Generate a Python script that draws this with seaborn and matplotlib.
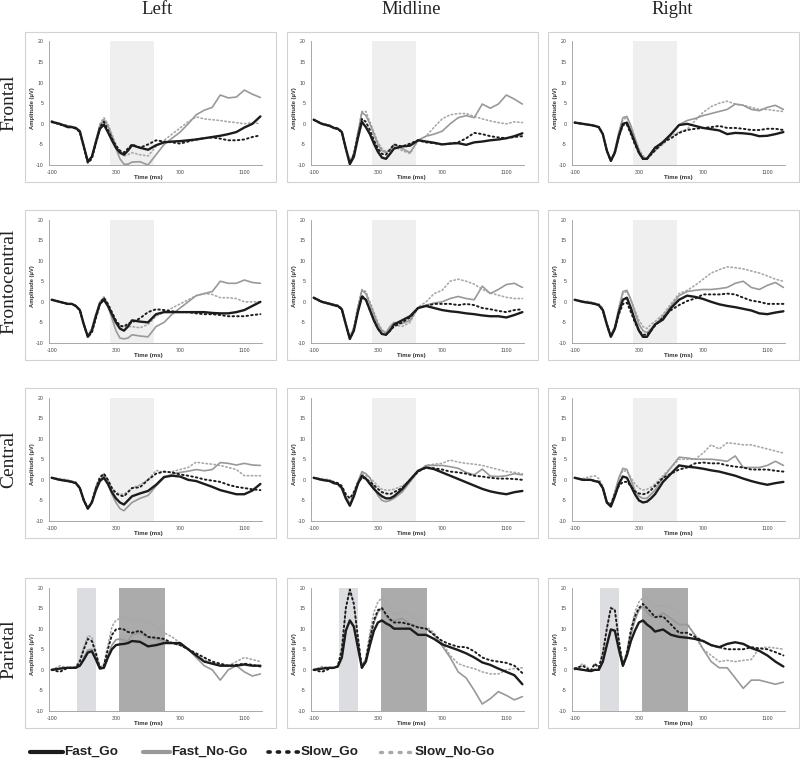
import matplotlib
matplotlib.use("Agg")
import matplotlib.pyplot as plt
import seaborn as sns
import pandas as pd
from matplotlib.patches import Rectangle
from matplotlib.lines import Line2D

# ---------------- data ----------------
times = [-100, -50, 0, 25, 50, 75, 100, 125, 150, 175, 200, 225, 250, 275, 300, 325, 350, 375, 400,
         450, 500, 550, 600, 650, 700, 750, 800, 850, 900, 950, 1000, 1050, 1100, 1150, 1200]
regions = ["Frontal", "Frontocentral", "Central", "Parietal"]
sides = ["Left", "Midline", "Right"]
conditions = ["Fast_Go", "Fast_No-Go", "Slow_Go", "Slow_No-Go"]
x_ticks = [-100, 100, 300, 500, 700, 900, 1100]
x_ticklabels = ["-100", "", "300", "", "700", "", "1100"]
y_ticks = [-10, -5, 0, 5, 10, 15, 20]
n2_window = [260, 540]
p1_window = [60, 175]
p3_window = [320, 605]

# Frontal
fl_fg = [0.5, 0.0, -0.8, -0.8, -1.0, -1.8, -5.5, -9.2, -8.0, -4.5, -1.2, -0.2, -2.0, -4.0, -5.8, -7.0, -7.5, -6.5, -5.2, -5.8, -6.3, -5.2, -4.5, -4.3, -4.2, -4.0, -3.8, -3.5, -3.2, -2.9, -2.5, -2.0, -0.9, 0.0, 1.8]
fl_fn = [0.3, 0.0, -0.5, -0.8, -1.0, -1.8, -5.5, -9.0, -8.0, -4.0, -0.5, 1.0, -0.5, -3.0, -6.0, -8.5, -9.8, -9.8, -9.3, -9.2, -10.0, -7.5, -5.0, -3.5, -2.0, 0.0, 2.2, 3.3, 4.0, 7.0, 6.3, 6.5, 8.2, 7.2, 6.4]
fl_sg = [0.6, -0.2, -0.5, -0.8, -1.2, -2.0, -5.8, -9.5, -8.5, -4.8, -0.8, 0.5, -1.5, -3.5, -5.3, -6.5, -7.0, -6.0, -5.0, -5.8, -5.0, -4.0, -4.3, -4.5, -4.8, -4.3, -3.8, -3.5, -3.3, -3.6, -4.0, -4.0, -3.8, -3.2, -2.8]
fl_sn = [0.5, 0.0, -0.5, -0.6, -1.0, -1.8, -5.5, -9.0, -8.0, -4.0, 0.0, 1.5, 0.0, -2.5, -5.0, -6.8, -7.8, -7.5, -7.0, -7.5, -7.8, -5.5, -4.0, -2.5, -1.0, 0.5, 1.7, 1.2, 1.0, 0.8, 0.5, 0.3, 0.0, 0.3, 0.0]

fm_fg = [1.0, 0.0, -0.5, -1.0, -1.2, -2.0, -6.0, -9.8, -8.0, -3.5, 0.5, -0.8, -2.5, -4.8, -6.8, -8.2, -8.5, -7.3, -6.0, -5.5, -5.3, -4.0, -4.3, -4.6, -5.0, -4.8, -4.7, -5.1, -4.5, -4.3, -4.0, -3.8, -3.5, -3.0, -2.3]
fm_fn = [1.0, 0.0, -0.5, -1.0, -1.2, -2.0, -6.0, -9.5, -7.5, -2.5, 2.8, 2.0, 0.0, -2.5, -5.0, -6.5, -7.0, -6.2, -5.0, -6.0, -7.0, -4.0, -3.0, -2.5, -1.8, 0.0, 1.5, 2.0, 1.5, 4.8, 3.8, 4.8, 7.0, 6.0, 4.8]
fm_sg = [1.0, 0.0, -0.5, -1.0, -1.2, -2.0, -6.0, -9.5, -7.5, -3.0, 1.2, 0.5, -1.5, -4.0, -6.0, -7.3, -7.5, -6.3, -5.0, -5.5, -4.8, -4.0, -4.5, -4.7, -5.0, -4.8, -4.5, -3.5, -2.2, -2.5, -3.0, -3.3, -3.5, -3.2, -3.0]
fm_sn = [1.0, 0.2, -0.3, -0.8, -1.0, -1.8, -5.5, -9.0, -7.0, -2.0, 3.0, 3.0, 0.5, -2.0, -4.5, -6.0, -6.8, -6.5, -5.5, -6.5, -7.2, -4.0, -3.0, -0.8, 1.2, 2.2, 2.5, 2.5, 1.8, 1.2, 0.7, 0.3, 0.0, 0.5, 0.3]

fr_fg = [0.3, 0.0, -0.3, -0.5, -0.8, -2.5, -6.5, -9.0, -7.0, -3.0, 0.0, 0.3, -2.0, -4.5, -7.0, -8.5, -8.5, -7.2, -5.8, -4.5, -2.5, -0.3, 0.0, -0.5, -1.0, -1.3, -1.6, -2.5, -2.2, -2.3, -2.5, -3.0, -2.9, -2.5, -2.0]
fr_fn = [0.3, 0.0, -0.3, -0.5, -0.8, -2.5, -6.5, -9.0, -6.5, -2.0, 1.5, 1.8, -0.5, -3.5, -6.5, -8.2, -8.5, -7.0, -6.0, -4.2, -2.5, -0.2, 0.8, 1.3, 2.0, 2.5, 3.0, 3.5, 4.8, 4.5, 3.5, 3.2, 4.0, 4.5, 3.5]
fr_sg = [0.3, 0.0, -0.3, -0.5, -0.8, -2.5, -6.5, -9.0, -7.0, -3.0, -0.3, -0.2, -2.5, -5.0, -7.0, -8.5, -8.5, -7.5, -6.5, -4.5, -3.5, -2.2, -1.5, -1.2, -1.0, -0.8, -0.5, -1.0, -1.0, -1.2, -1.5, -1.5, -1.2, -1.2, -1.5]
fr_sn = [0.3, 0.0, -0.3, -0.5, -0.8, -2.5, -6.5, -8.8, -6.5, -2.0, 1.0, 1.5, -0.5, -3.5, -6.0, -7.8, -8.3, -7.5, -6.5, -5.0, -3.0, -2.0, -1.3, 0.8, 2.8, 4.2, 5.0, 5.5, 4.8, 4.5, 4.0, 3.5, 3.5, 3.2, 3.0]

# Frontocentral
fcl_fg = [0.5, 0.0, -0.5, -0.5, -1.0, -2.0, -5.5, -8.5, -7.0, -3.5, -0.5, 0.5, -1.0, -3.0, -5.0, -6.5, -7.0, -6.0, -4.5, -4.8, -5.0, -3.0, -2.5, -2.5, -2.5, -2.5, -2.5, -2.5, -2.7, -2.8, -2.8, -2.5, -2.0, -1.0, 0.0]
fcl_fn = [0.5, 0.0, -0.5, -0.5, -1.0, -2.0, -5.5, -8.3, -6.5, -3.0, 0.0, 1.0, -1.0, -4.0, -7.0, -8.8, -9.0, -8.8, -8.0, -8.3, -8.5, -6.0, -5.0, -3.0, -1.5, 0.0, 1.5, 2.0, 2.5, 5.0, 4.5, 4.5, 5.3, 4.7, 4.5]
fcl_sg = [0.5, 0.0, -0.5, -0.5, -1.0, -2.0, -5.5, -8.5, -7.5, -4.0, -0.5, 1.0, -0.5, -2.5, -4.5, -5.8, -6.0, -5.3, -5.0, -4.0, -2.5, -1.8, -2.0, -2.3, -2.5, -2.5, -2.8, -3.0, -3.0, -3.2, -3.5, -3.5, -3.5, -3.2, -3.0]
fcl_sn = [0.5, 0.0, -0.5, -0.5, -1.0, -2.0, -5.5, -8.3, -6.5, -3.0, 0.0, 1.2, -0.5, -3.0, -5.0, -6.0, -6.0, -6.0, -6.0, -6.3, -5.5, -3.5, -2.5, -1.5, -0.5, 0.5, 1.5, 2.0, 1.8, 1.0, 1.0, 0.8, 0.0, 0.0, 0.0]

fcm_fg = [1.0, 0.0, -0.5, -0.8, -1.0, -1.8, -5.5, -9.0, -7.0, -2.5, 1.2, 0.5, -2.0, -4.5, -6.5, -7.8, -8.0, -7.0, -5.5, -4.5, -3.5, -1.5, -1.0, -1.5, -2.0, -2.3, -2.5, -2.8, -3.0, -3.3, -3.5, -3.5, -3.8, -3.2, -2.5]
fcm_fn = [1.0, 0.0, -0.5, -0.8, -1.0, -1.8, -5.5, -8.8, -6.5, -1.5, 2.8, 2.0, -0.5, -3.0, -5.5, -7.0, -7.5, -6.0, -5.0, -5.3, -4.5, -1.5, -0.8, -0.3, 0.0, 0.8, 1.3, 0.8, 0.5, 3.8, 2.0, 3.0, 4.2, 4.5, 3.5]
fcm_sg = [1.0, 0.0, -0.5, -0.8, -1.0, -1.8, -5.5, -9.0, -7.0, -2.5, 1.5, 0.5, -2.0, -4.5, -6.5, -7.8, -8.0, -7.0, -6.0, -5.0, -3.8, -1.5, -1.0, -0.5, -0.5, -0.5, -0.8, -0.5, -0.8, -1.5, -1.8, -2.2, -2.5, -2.0, -1.8]
fcm_sn = [1.0, 0.2, -0.3, -0.5, -0.8, -1.5, -5.0, -8.5, -6.0, -1.0, 3.0, 2.5, 0.0, -2.5, -5.0, -6.8, -7.5, -6.5, -5.5, -6.0, -5.0, -1.3, 0.0, 2.0, 2.8, 5.0, 5.5, 5.0, 4.3, 3.0, 2.2, 1.6, 1.1, 0.8, 0.8]

fcr_fg = [0.5, 0.0, -0.3, -0.5, -0.8, -2.0, -5.5, -8.5, -6.5, -2.5, 0.5, 1.0, -1.5, -4.5, -7.0, -8.5, -8.5, -7.0, -5.5, -4.3, -1.5, 0.5, 1.5, 1.2, 0.7, 0.0, -0.6, -1.0, -1.3, -1.7, -2.1, -2.8, -3.0, -2.6, -2.3]
fcr_fn = [0.5, 0.0, -0.3, -0.5, -0.8, -2.0, -5.5, -8.3, -6.0, -1.5, 2.5, 2.8, 0.5, -2.5, -5.5, -7.0, -7.5, -6.5, -5.5, -3.5, -1.0, 1.5, 2.5, 2.8, 3.0, 3.0, 3.2, 3.5, 4.5, 5.0, 3.5, 3.0, 4.0, 4.7, 3.5]
fcr_sg = [0.5, 0.0, -0.3, -0.5, -0.8, -2.0, -5.5, -8.5, -6.5, -3.0, -0.5, -0.2, -2.5, -5.0, -7.0, -8.0, -8.0, -7.0, -5.8, -3.8, -2.0, -0.8, 0.2, 0.8, 1.8, 1.8, 1.8, 2.0, 1.8, 1.0, 0.3, 0.0, -0.5, -0.5, -0.5]
fcr_sn = [0.5, 0.2, 0.0, -0.3, -0.5, -1.5, -5.0, -8.0, -6.0, -1.5, 2.0, 2.5, 0.5, -2.0, -4.5, -6.0, -6.5, -5.5, -4.8, -3.0, -0.5, 2.0, 2.8, 4.0, 5.5, 7.0, 7.8, 8.5, 8.3, 8.0, 7.5, 7.0, 6.3, 5.5, 5.0]

# Central
cl_fg = [0.5, 0.0, -0.3, -0.5, -0.8, -2.0, -5.0, -7.0, -5.5, -2.5, -0.3, 0.5, -1.0, -3.0, -4.5, -5.5, -6.0, -5.0, -4.0, -3.3, -2.7, -1.2, 0.7, 1.0, 0.8, 0.0, -0.3, -1.0, -1.7, -2.5, -3.0, -3.5, -3.5, -2.6, -1.0]
cl_fn = [0.5, 0.0, -0.3, -0.5, -0.8, -2.0, -5.0, -7.0, -5.5, -2.5, 0.0, 1.0, -1.0, -3.5, -5.5, -7.0, -7.5, -6.5, -5.5, -4.5, -3.8, -1.5, 0.5, 1.4, 1.8, 2.1, 2.5, 2.2, 2.5, 4.2, 4.0, 3.6, 4.0, 3.6, 3.5]
cl_sg = [0.5, 0.0, -0.3, -0.5, -0.8, -2.0, -5.0, -7.0, -5.5, -2.0, 0.5, 1.5, 0.0, -2.0, -3.3, -3.8, -4.0, -3.0, -2.0, -1.8, 0.0, 1.5, 2.0, 1.8, 1.3, 1.0, 0.6, 0.1, -0.2, -0.5, -1.2, -1.7, -2.0, -2.3, -2.5]
cl_sn = [0.5, 0.3, 0.0, -0.3, -0.5, -1.8, -5.0, -6.8, -5.0, -1.5, 0.8, 1.5, 0.0, -2.0, -3.0, -3.5, -3.5, -2.8, -2.0, -1.2, 0.0, 2.3, 1.8, 2.0, 2.5, 3.0, 4.3, 4.0, 3.8, 3.5, 3.0, 2.5, 1.0, 1.0, 1.0]

cm_fg = [0.5, 0.0, -0.3, -0.8, -1.0, -2.0, -4.5, -6.3, -4.0, -1.0, 1.0, 0.3, -1.0, -2.2, -3.2, -4.0, -4.5, -4.5, -4.0, -2.3, 0.0, 2.2, 3.0, 2.6, 1.8, 1.0, 0.2, -0.6, -1.4, -2.2, -2.8, -3.2, -3.5, -3.0, -2.7]
cm_fn = [0.5, 0.0, -0.3, -0.8, -1.0, -2.0, -4.5, -6.0, -3.5, -0.5, 2.0, 1.5, 0.5, -1.8, -3.8, -5.0, -5.3, -5.0, -4.5, -3.0, -0.5, 2.0, 3.5, 3.5, 3.5, 3.2, 2.8, 1.8, 1.2, 2.6, 0.9, 0.8, 1.0, 1.5, 1.2]
cm_sg = [0.5, 0.0, -0.3, -0.5, -0.8, -1.5, -3.5, -4.5, -3.0, -0.8, 0.5, 0.3, -0.5, -1.3, -2.2, -3.0, -3.3, -3.5, -3.0, -2.0, 0.0, 2.0, 3.0, 2.8, 2.5, 2.0, 1.8, 1.5, 1.0, 0.8, 0.5, 0.3, 0.3, 0.2, 0.0]
cm_sn = [0.5, 0.3, 0.0, -0.5, -0.8, -1.5, -4.0, -5.5, -3.0, -0.5, 1.5, 1.0, 0.5, -0.5, -1.5, -2.3, -2.5, -2.5, -2.3, -1.5, 0.0, 2.0, 3.5, 3.8, 4.0, 4.8, 4.3, 4.0, 3.8, 3.5, 3.0, 2.5, 2.0, 1.8, 1.5]

cr_fg = [0.5, 0.0, 0.0, -0.3, -0.5, -2.0, -5.5, -6.5, -4.0, -1.0, 0.8, 0.5, -1.5, -3.5, -5.0, -5.5, -5.3, -4.5, -3.5, -0.5, 1.5, 3.5, 3.2, 3.0, 2.7, 2.3, 2.0, 1.5, 1.0, 0.3, -0.3, -0.8, -1.2, -0.8, -0.5]
cr_fn = [0.5, 0.0, 0.0, -0.3, -0.5, -2.0, -5.5, -6.3, -3.0, 0.5, 2.8, 2.5, 0.0, -2.5, -4.0, -4.5, -4.5, -3.5, -2.5, 0.5, 3.0, 5.5, 5.3, 5.0, 5.0, 5.0, 4.8, 4.5, 5.8, 3.0, 3.0, 3.0, 3.5, 4.5, 3.5]
cr_sg = [0.5, 0.0, 0.0, -0.3, -0.5, -2.0, -5.5, -6.0, -3.5, -1.5, -0.5, -0.5, -1.5, -2.8, -3.3, -3.5, -3.3, -2.5, -1.5, 0.5, 1.5, 2.5, 3.0, 4.0, 4.2, 4.0, 4.0, 3.5, 3.2, 3.0, 2.5, 2.5, 2.5, 2.2, 2.0]
cr_sn = [0.5, 0.3, 0.8, 1.0, 0.3, -1.5, -5.0, -6.0, -3.0, 0.0, 2.3, 2.0, 0.5, -1.0, -2.0, -2.5, -2.3, -1.8, -1.0, 1.0, 3.0, 5.0, 5.0, 5.0, 6.5, 8.5, 7.5, 9.0, 8.8, 8.5, 8.5, 8.0, 7.5, 7.0, 6.5]

# Parietal
pl_fg = [0.0, 0.3, 0.5, 0.5, 0.5, 1.0, 2.5, 4.2, 4.5, 2.5, 0.3, 0.5, 3.0, 5.0, 6.0, 6.2, 6.3, 6.5, 7.0, 6.8, 5.7, 6.0, 6.5, 6.5, 6.5, 5.0, 3.5, 2.0, 1.5, 1.0, 1.0, 1.0, 1.3, 1.0, 1.0]
pl_fn = [0.0, 0.3, 0.5, 0.5, 0.5, 1.0, 3.0, 4.8, 5.0, 3.0, 0.3, 0.5, 3.5, 6.0, 7.3, 7.5, 7.2, 7.0, 8.5, 9.0, 7.8, 7.5, 7.0, 6.5, 6.0, 5.0, 3.0, 1.0, 0.0, -2.5, 0.0, 1.0, -0.5, -1.5, -1.0]
pl_sg = [0.0, -0.5, 0.5, 0.5, 0.5, 2.0, 5.0, 7.5, 7.0, 4.0, 0.5, 1.0, 5.0, 8.5, 9.8, 10.0, 9.8, 9.2, 9.0, 9.5, 8.0, 7.8, 7.5, 6.5, 6.0, 5.0, 4.0, 3.0, 2.0, 1.5, 1.0, 1.2, 1.5, 1.2, 0.8]
pl_sn = [0.0, 1.0, 0.5, 0.5, 0.8, 2.5, 5.5, 8.3, 8.0, 4.5, 0.5, 1.5, 6.0, 10.5, 12.0, 12.5, 13.0, 12.5, 11.5, 12.5, 11.5, 10.5, 9.0, 8.0, 6.5, 5.0, 3.5, 2.5, 1.5, 1.2, 1.0, 2.0, 3.0, 2.5, 2.0]

pm_fg = [0.0, 0.3, 0.5, 0.5, 0.8, 3.0, 9.5, 12.0, 10.5, 5.5, 0.5, 2.0, 6.0, 9.5, 11.5, 12.0, 11.3, 10.8, 10.0, 10.0, 10.0, 8.5, 8.5, 7.5, 6.2, 5.5, 4.8, 4.0, 3.0, 1.8, 1.2, 0.3, -0.5, -1.3, -3.5]
pm_fn = [0.0, 0.3, 0.5, 0.5, 0.8, 3.0, 9.5, 12.0, 10.5, 5.5, 0.8, 2.5, 7.5, 11.5, 14.0, 15.0, 13.0, 12.0, 12.0, 12.5, 11.2, 10.5, 10.0, 8.5, 5.8, 3.0, -0.5, -2.0, -5.0, -8.3, -7.0, -5.3, -6.2, -7.3, -6.5]
pm_sg = [0.0, -0.5, 0.3, 0.5, 0.8, 5.0, 15.0, 19.5, 16.0, 8.0, 0.5, 2.5, 7.5, 12.0, 14.5, 15.0, 13.5, 12.3, 11.5, 11.5, 11.0, 10.3, 10.0, 8.5, 7.0, 6.2, 5.6, 5.5, 4.5, 3.0, 2.3, 2.0, 1.7, 1.0, -0.8]
pm_sn = [0.0, 0.8, 0.5, 0.5, 1.0, 5.0, 15.0, 19.5, 16.0, 8.0, 0.5, 3.0, 9.0, 14.0, 16.5, 17.5, 16.5, 14.5, 13.5, 14.0, 13.5, 12.0, 10.5, 9.0, 6.5, 3.5, 1.5, 0.8, 0.3, -0.5, -1.0, -1.0, 0.0, 0.3, 0.5]

pr_fg = [0.3, 0.0, -0.3, 0.0, 0.0, 2.0, 6.0, 9.8, 9.5, 5.0, 1.0, 3.5, 7.0, 9.5, 11.5, 12.0, 11.0, 10.3, 9.3, 9.8, 8.5, 8.0, 7.8, 7.5, 7.0, 6.0, 5.5, 6.3, 6.7, 6.3, 5.3, 4.6, 3.5, 2.0, 0.8]
pr_fn = [0.3, 0.0, -0.3, 0.0, 0.0, 2.0, 6.0, 9.8, 9.5, 5.0, 1.0, 4.0, 8.5, 12.0, 14.5, 15.5, 14.0, 13.0, 12.8, 13.8, 12.5, 11.0, 11.0, 8.5, 5.0, 2.0, 0.5, 0.5, -2.0, -4.5, -2.5, -2.5, -3.0, -3.5, -3.0]
pr_sg = [0.3, 1.0, -0.3, 1.5, 0.5, 4.0, 10.0, 15.0, 14.5, 7.0, 1.0, 4.0, 9.5, 13.0, 15.0, 16.0, 15.0, 14.0, 12.8, 13.0, 11.0, 9.0, 9.0, 8.0, 7.0, 6.0, 5.5, 5.0, 5.0, 5.0, 5.5, 5.2, 5.0, 4.3, 3.5]
pr_sn = [0.0, 1.5, 0.0, 1.5, 0.8, 4.0, 10.0, 15.3, 14.5, 7.5, 1.0, 4.5, 10.0, 14.0, 16.5, 17.5, 17.3, 16.0, 15.5, 15.5, 15.3, 14.0, 11.5, 8.0, 5.0, 3.5, 2.0, 2.3, 2.0, 2.3, 2.5, 5.3, 5.5, 5.3, 5.0]

panel_data = {
    (0, 0): [fl_fg, fl_fn, fl_sg, fl_sn],
    (0, 1): [fm_fg, fm_fn, fm_sg, fm_sn],
    (0, 2): [fr_fg, fr_fn, fr_sg, fr_sn],
    (1, 0): [fcl_fg, fcl_fn, fcl_sg, fcl_sn],
    (1, 1): [fcm_fg, fcm_fn, fcm_sg, fcm_sn],
    (1, 2): [fcr_fg, fcr_fn, fcr_sg, fcr_sn],
    (2, 0): [cl_fg, cl_fn, cl_sg, cl_sn],
    (2, 1): [cm_fg, cm_fn, cm_sg, cm_sn],
    (2, 2): [cr_fg, cr_fn, cr_sg, cr_sn],
    (3, 0): [pl_fg, pl_fn, pl_sg, pl_sn],
    (3, 1): [pm_fg, pm_fn, pm_sg, pm_sn],
    (3, 2): [pr_fg, pr_fn, pr_sg, pr_sn],
}

# ---------------- style ----------------
sns.set_style("white")
plt.rcParams["font.family"] = ["Liberation Sans", "DejaVu Sans"]

dot = (0, (0.8, 1.6))
styles = {
    "Fast_Go":    dict(color="#1c1c1c", linewidth=1.7, linestyle="-"),
    "Fast_No-Go": dict(color="#999999", linewidth=1.2, linestyle="-"),
    "Slow_Go":    dict(color="#1c1c1c", linewidth=1.4, linestyle=dot, dash_capstyle="round"),
    "Slow_No-Go": dict(color="#a8a8a8", linewidth=1.2, linestyle=dot, dash_capstyle="round"),
}
zorders = {"Fast_Go": 5, "Fast_No-Go": 3, "Slow_Go": 4, "Slow_No-Go": 2}

W, H = 800, 761
fig = plt.figure(figsize=(W / 100, H / 100), dpi=100)

box_x0 = [25, 287, 548]
box_y0 = [32, 210, 388, 578]
box_w, box_h = 251, 150
time_label_x = [0.465, 0.47, 0.5]
title_x = [157, 411, 672]

serif = ["Liberation Serif", "DejaVu Serif"]

for r, reg in enumerate(regions):
    for c, side in enumerate(sides):
        bx, by = box_x0[c], box_y0[r]
        fig.add_artist(Rectangle((bx / W, 1 - (by + box_h) / H), box_w / W, box_h / H,
                                 transform=fig.transFigure, facecolor="none",
                                 edgecolor="#d2d2d2", linewidth=0.8))
        pl, pr_ = bx + 24, bx + 237
        pt, pb = by + 9.5, by + 133
        ax = fig.add_axes([pl / W, 1 - pb / H, (pr_ - pl) / W, (pb - pt) / H])
        if reg == "Parietal":
            ax.axvspan(p1_window[0], p1_window[1], color="#dcdde0", lw=0, zorder=0)
            ax.axvspan(p3_window[0], p3_window[1], color="#ababab", lw=0, zorder=0)
        else:
            ax.axvspan(n2_window[0], n2_window[1], color="#efefef", lw=0, zorder=0)
        for cond, vals in zip(conditions, panel_data[(r, c)]):
            sns.lineplot(x=times, y=vals, ax=ax, legend=False, zorder=zorders[cond],
                         **styles[cond])
        ax.set_xlim(-117, 1210)
        ax.set_ylim(-10, 20)
        ax.set_xticks(x_ticks)
        ax.set_xticklabels(x_ticklabels)
        ax.set_yticks(y_ticks)
        ax.set_yticklabels([str(v) for v in y_ticks])
        ax.tick_params(axis="x", direction="in", length=2, width=0.5, color="#999999",
                       labelsize=3.8, labelcolor="#444444", pad=3.5)
        ax.tick_params(axis="y", direction="out", length=1.5, width=0.5, color="#999999",
                       labelsize=3.8, labelcolor="#444444", pad=2.5)
        for s in ["top", "right"]:
            ax.spines[s].set_visible(False)
        for s in ["left", "bottom"]:
            ax.spines[s].set_color("#9a9a9a")
            ax.spines[s].set_linewidth(0.6)
        ax.set_xlabel("")
        ax.set_ylabel("")
        ax.text(time_label_x[c], -0.105, "Time (ms)", transform=ax.transAxes, ha="center",
                va="center", fontsize=4.4, fontweight="bold", color="#333333")
        ax.text(-0.078, 0.46, "Amplitude (µV)", transform=ax.transAxes, ha="center",
                va="center", rotation=90, fontsize=4.2, fontweight="bold", color="#333333")
        if r == 0:
            fig.text(title_x[c] / W, 1 - 13.5 / H, side, ha="center", va="baseline",
                     fontsize=13.5, family=serif, color="#222222")
        if c == 0:
            fig.text(9 / W, 1 - (pt + pb) / 2 / H, reg, ha="center", va="center",
                     rotation=90, fontsize=14, family=serif, color="#222222")

# legend
leg_y = 1 - 752 / H
leg_items = [
    ("Fast_Go", 30, 63, dict(color="#1c1c1c", linewidth=3.0, linestyle="-")),
    ("Fast_No-Go", 143, 170, dict(color="#999999", linewidth=3.0, linestyle="-")),
    ("Slow_Go", 268, 300, dict(color="#1c1c1c", linewidth=2.6, linestyle=(0, (0.6, 2.0)),
                               dash_capstyle="round")),
    ("Slow_No-Go", 380, 414, dict(color="#a8a8a8", linewidth=2.4, linestyle=(0, (0.6, 2.2)),
                                  dash_capstyle="round")),
]
for label, x0, x1, kw in leg_items:
    fig.add_artist(Line2D([x0 / W, x1 / W], [leg_y, leg_y], transform=fig.transFigure, **kw))
    fig.text((x1 + 1) / W, leg_y, label, ha="left", va="center", fontsize=9.7,
             fontweight="bold", color="#222222")

fig.savefig("out.png", dpi=100)
